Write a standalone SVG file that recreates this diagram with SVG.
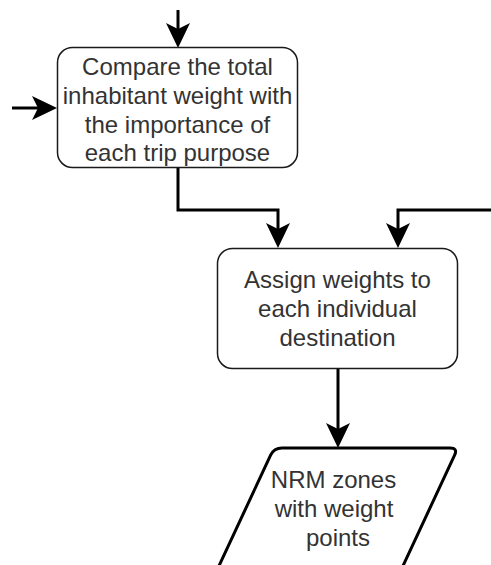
<svg xmlns="http://www.w3.org/2000/svg" width="491" height="565" viewBox="0 0 491 565">
  <style>
    .node { fill: #ffffff; stroke: #1a1a1a; stroke-width: 1.5; }
    .data { fill: #ffffff; stroke: #000000; stroke-width: 3; stroke-linejoin: round; }
    .label { font-family: "Liberation Sans", Arial, sans-serif; font-size: 24px; fill: #333333; text-anchor: middle; }
    .edge { fill: none; stroke: #000000; stroke-width: 3; stroke-linejoin: miter; }
  </style>
  <defs>
    <marker id="arrow" viewBox="0 -12 25 24" markerWidth="25" markerHeight="24" markerUnits="userSpaceOnUse" refX="6" refY="0" orient="auto">
      <path d="M25,0 L0,-12 L6,0 L0,12 Z" fill="#000000"/>
    </marker>
  </defs>
  <rect width="491" height="565" fill="#ffffff"/>

  <g id="connectors">
    <path class="edge" d="M178,10 V29" marker-end="url(#arrow)"/>
    <path class="edge" d="M12,108 H38" marker-end="url(#arrow)"/>
    <path class="edge" d="M178,168 V210 H278 V229" marker-end="url(#arrow)"/>
    <path class="edge" d="M491,210 H398 V229" marker-end="url(#arrow)"/>
    <path class="edge" d="M338,369 V429" marker-end="url(#arrow)"/>
  </g>

  <g id="compare-weights">
    <rect class="node" x="57.5" y="47.5" width="240" height="120" rx="15" ry="15"/>
    <text class="label" x="177.5" y="75">Compare the total</text>
    <text class="label" x="177.5" y="104">inhabitant weight with</text>
    <text class="label" x="177.5" y="133">the importance of</text>
    <text class="label" x="177.5" y="161">each trip purpose</text>
  </g>

  <g id="assign-weights">
    <rect class="node" x="217.5" y="248.5" width="240" height="120" rx="15" ry="15"/>
    <text class="label" x="337.5" y="288">Assign weights to</text>
    <text class="label" x="337.5" y="317">each individual</text>
    <text class="label" x="337.5" y="346">destination</text>
  </g>

  <g id="nrm-zones">
    <path class="data" d="M218,568 L270.6,455.2 Q274,448 282,448 L450,448 Q458,448 454.6,455.2 L402,568 Z"/>
    <text class="label" x="333.5" y="488">NRM zones</text>
    <text class="label" x="334" y="517">with weight</text>
    <text class="label" x="338" y="546">points</text>
  </g>
</svg>
